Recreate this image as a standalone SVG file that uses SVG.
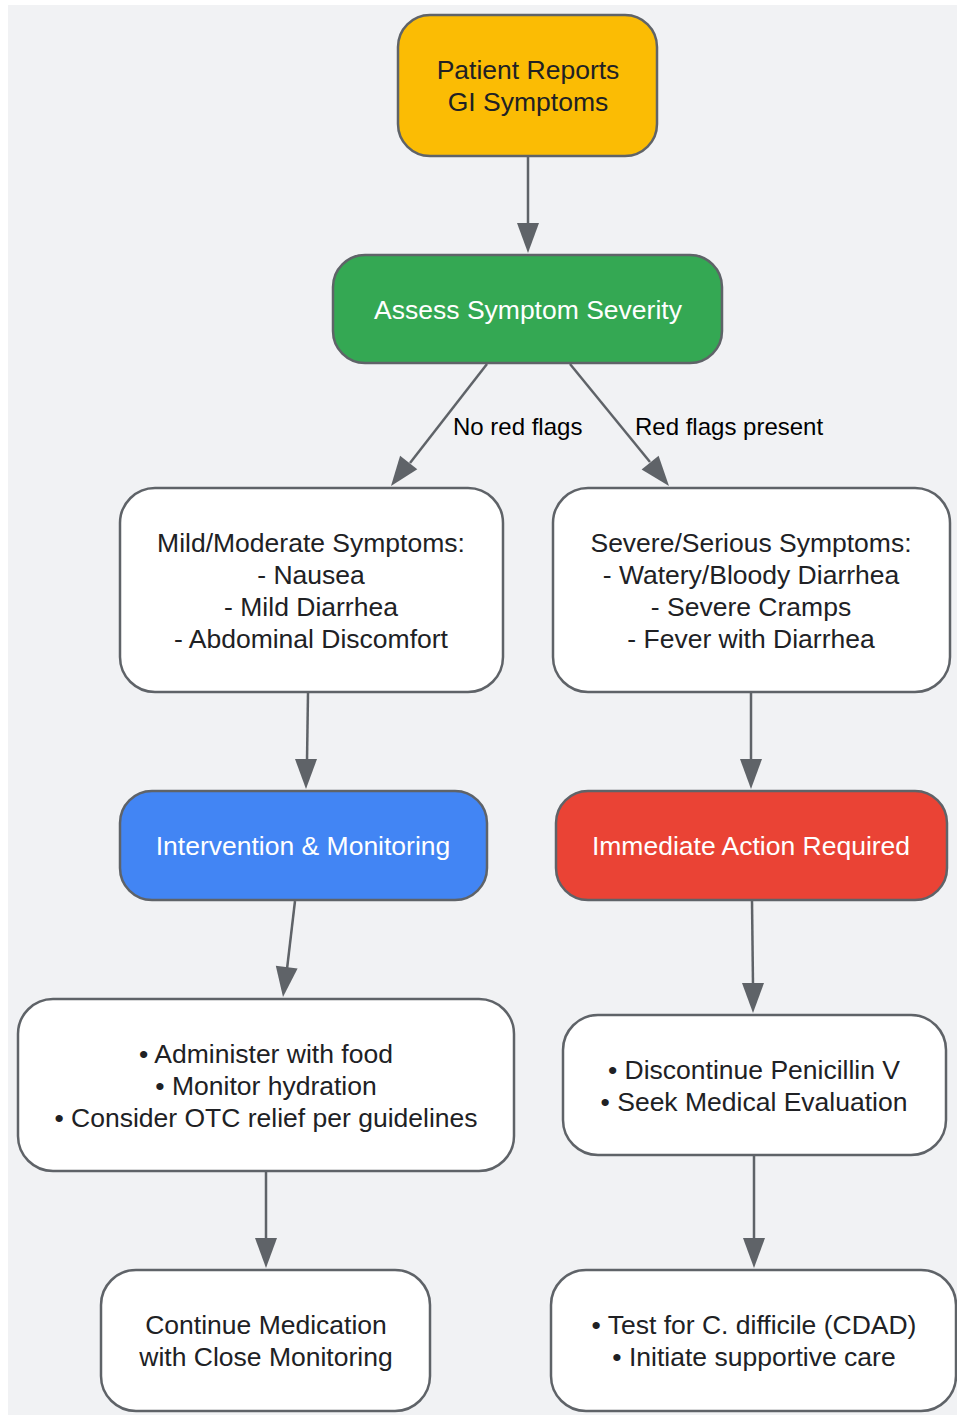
<svg xmlns="http://www.w3.org/2000/svg" width="957" height="1415" viewBox="0 0 957 1415">
<defs>
<style>
.n{stroke:#5f6368;stroke-width:2.5}
.t{font-family:"Liberation Sans",Arial,sans-serif;font-size:26.5px;text-anchor:middle;fill:#202124}
.w{fill:#ffffff}
.e{stroke:#5f6368;stroke-width:2.5;fill:none}
.h{fill:#5f6368}
.l{font-family:"Liberation Sans",Arial,sans-serif;font-size:24px;fill:#000000}
</style>
</defs>
<rect x="8" y="5" width="949" height="1410" fill="#f1f2f4"/>
<g id="connectors">
<path class="e" d="M528,156 L528,225"/>
<path class="h" d="M517,223 L539,223 L528,253 z"/>
<path class="e" d="M487,364 L410,463"/>
<path class="h" d="M417.3,469.3 L400.1,455.7 L391,486 z"/>
<path class="e" d="M570,364 L650,462"/>
<path class="h" d="M658.6,455.8 L641.6,469.6 L669,486 z"/>
<path class="e" d="M308,693 L307,761"/>
<path class="h" d="M295,759 L317,759 L306,789 z"/>
<path class="e" d="M751,693 L751,761"/>
<path class="h" d="M740,759 L762,759 L751,789 z"/>
<path class="e" d="M295,901 L287,969"/>
<path class="h" d="M297.6,968.6 L275.8,965.8 L283,997 z"/>
<path class="e" d="M752,901 L753,985"/>
<path class="h" d="M742,983 L764,983 L753,1013 z"/>
<path class="e" d="M266,1172 L266,1240"/>
<path class="h" d="M255,1238 L277,1238 L266,1268 z"/>
<path class="e" d="M754,1156 L754,1240"/>
<path class="h" d="M743,1238 L765,1238 L754,1268 z"/>
<text class="l" x="453" y="435">No red flags</text>
<text class="l" x="635" y="435">Red flags present</text>
</g>
<g id="patient-reports">
<rect class="n" x="398" y="15" width="259" height="141" rx="32" fill="#fbbc04"/>
<text class="t" x="528" y="79">Patient Reports</text>
<text class="t" x="528" y="111">GI Symptoms</text>
</g>
<g id="assess">
<rect class="n" x="333" y="255" width="389" height="108" rx="32" fill="#34a853"/>
<text class="t w" x="528" y="319">Assess Symptom Severity</text>
</g>
<g id="mild">
<rect class="n" x="120" y="488" width="383" height="204" rx="35" fill="#ffffff"/>
<text class="t" x="311" y="552">Mild/Moderate Symptoms:</text>
<text class="t" x="311" y="584">- Nausea</text>
<text class="t" x="311" y="616">- Mild Diarrhea</text>
<text class="t" x="311" y="648">- Abdominal Discomfort</text>
</g>
<g id="severe">
<rect class="n" x="553" y="488" width="397" height="204" rx="35" fill="#ffffff"/>
<text class="t" x="751" y="552">Severe/Serious Symptoms:</text>
<text class="t" x="751" y="584">- Watery/Bloody Diarrhea</text>
<text class="t" x="751" y="616">- Severe Cramps</text>
<text class="t" x="751" y="648">- Fever with Diarrhea</text>
</g>
<g id="intervention">
<rect class="n" x="120" y="791" width="367" height="109" rx="32" fill="#4285f4"/>
<text class="t w" x="303" y="855">Intervention &amp; Monitoring</text>
</g>
<g id="immediate">
<rect class="n" x="556" y="791" width="391" height="109" rx="32" fill="#ea4335"/>
<text class="t w" x="751" y="855">Immediate Action Required</text>
</g>
<g id="administer">
<rect class="n" x="18" y="999" width="496" height="172" rx="35" fill="#ffffff"/>
<text class="t" x="266" y="1063">• Administer with food</text>
<text class="t" x="266" y="1095">• Monitor hydration</text>
<text class="t" x="266" y="1127">• Consider OTC relief per guidelines</text>
</g>
<g id="discontinue">
<rect class="n" x="563" y="1015" width="383" height="140" rx="35" fill="#ffffff"/>
<text class="t" x="754" y="1079">• Discontinue Penicillin V</text>
<text class="t" x="754" y="1111">• Seek Medical Evaluation</text>
</g>
<g id="continue">
<rect class="n" x="101" y="1270" width="329" height="141" rx="35" fill="#ffffff"/>
<text class="t" x="266" y="1334">Continue Medication</text>
<text class="t" x="266" y="1366">with Close Monitoring</text>
</g>
<g id="test">
<rect class="n" x="551" y="1270" width="405" height="141" rx="35" fill="#ffffff"/>
<text class="t" x="754" y="1334">• Test for C. difficile (CDAD)</text>
<text class="t" x="754" y="1366">• Initiate supportive care</text>
</g>
</svg>
